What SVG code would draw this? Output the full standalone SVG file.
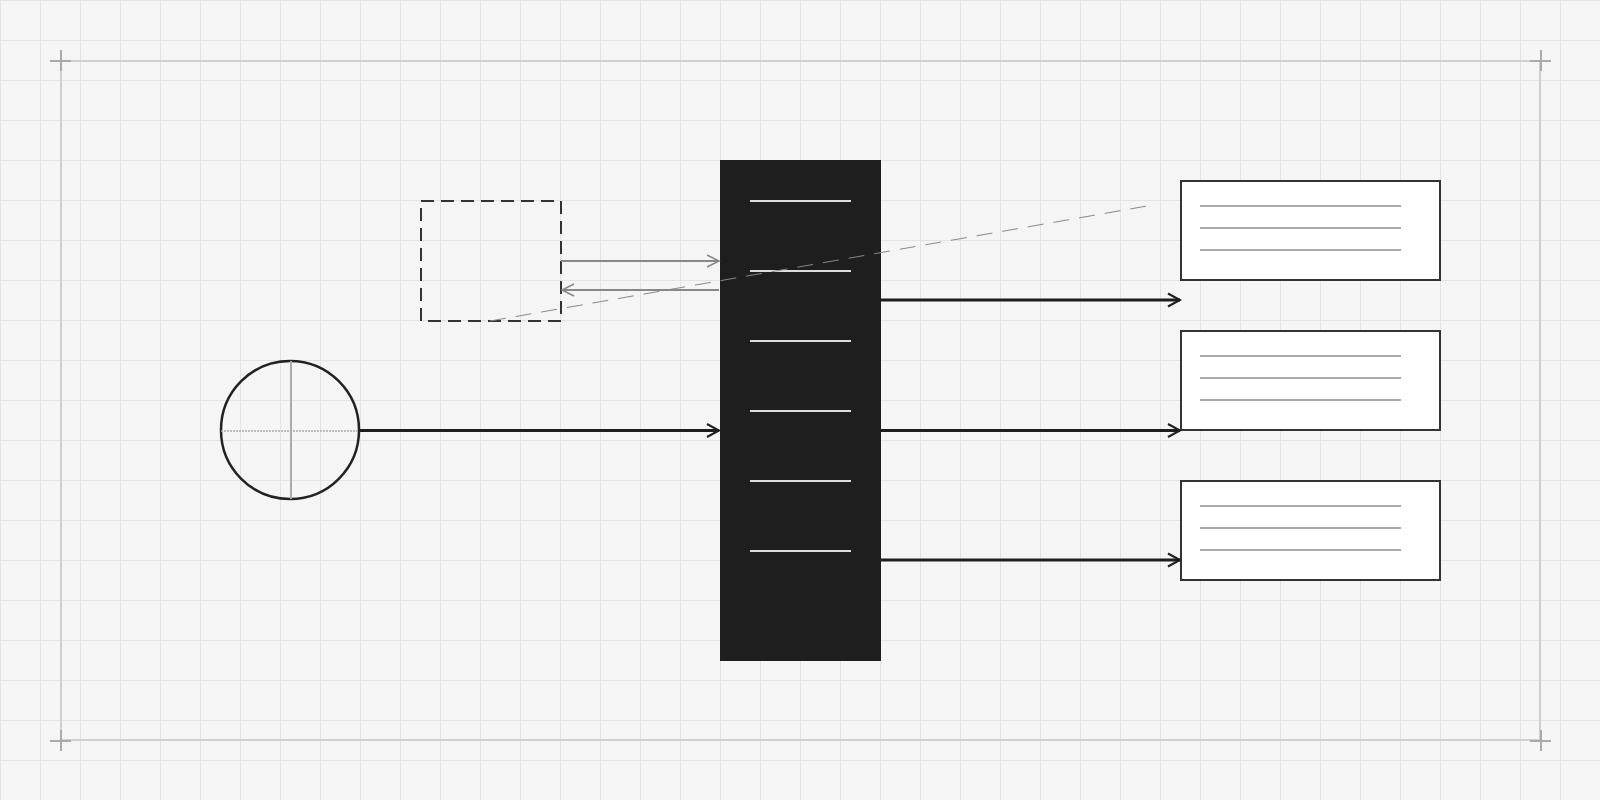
<svg xmlns="http://www.w3.org/2000/svg" width="1600" height="800" viewBox="0 0 1600 800">
<style>
.frame{fill:none;stroke:#cfcfcf;stroke-width:2}
.cross{stroke:#aaa;stroke-width:2}
.box{fill:#fff;stroke:#333;stroke-width:2}
.txt{stroke:#aaa;stroke-width:2}
.bar{stroke:#ddd;stroke-width:2}
.blk{fill:none;stroke:#1e1e1e;stroke-width:3}
.gry{fill:none;stroke:#888;stroke-width:1.8}
</style>
<defs>
<pattern id="grid" width="40" height="40" patternUnits="userSpaceOnUse">
<path d="M0.5 0V40M0 0.5H40" stroke="#e3e3e3" stroke-width="1" fill="none"/>
</pattern>
<marker id="ab" markerUnits="userSpaceOnUse" markerWidth="16" markerHeight="16" refX="13" refY="8" orient="auto">
<path d="M1 1.5L13 8L1 14.5" fill="none" stroke="#1e1e1e" stroke-width="2"/>
</marker>
<marker id="ag" markerUnits="userSpaceOnUse" markerWidth="16" markerHeight="16" refX="13" refY="8" orient="auto">
<path d="M1 2L13 8L1 14" fill="none" stroke="#888" stroke-width="1.5"/>
</marker>
</defs>
<rect width="1600" height="800" fill="#f5f5f5"/>
<rect width="1600" height="800" fill="url(#grid)"/>
<g id="frame">
<rect class="frame" x="61" y="61" width="1479" height="679"/>
<path class="cross" d="M50 61H71M61 50V71M1530 741H1551M1541 730V751M1530 61H1551M1541 50V71M50 741H71M61 730V751"/>
</g>
<g id="dashed-box">
<rect x="421" y="201" width="140" height="120" fill="none" stroke="#333" stroke-width="2" stroke-dasharray="13 7"/>
</g>
<g id="column">
<rect x="720" y="160" width="161" height="501" fill="#1e1e1e"/>
<path class="bar" d="M750 201H851M750 271H851M750 341H851M750 411H851M750 481H851M750 551H851"/>
</g>
<g id="circle">
<circle cx="290" cy="430" r="69" fill="none" stroke="#222" stroke-width="2.5"/>
<path d="M291 361V499" stroke="#aaa" stroke-width="2"/>
<path d="M221 431H359" stroke="#aaa" stroke-width="1.5" stroke-dasharray="2 1"/>
</g>
<g id="box1">
<rect class="box" x="1181" y="181" width="259" height="99"/>
<path class="txt" d="M1200 206H1401M1200 228H1401M1200 250H1401"/>
</g>
<g id="box2">
<rect class="box" x="1181" y="331" width="259" height="99"/>
<path class="txt" d="M1200 356H1401M1200 378H1401M1200 400H1401"/>
</g>
<g id="box3">
<rect class="box" x="1181" y="481" width="259" height="99"/>
<path class="txt" d="M1200 506H1401M1200 528H1401M1200 550H1401"/>
</g>
<g id="connectors">
<path class="gry" d="M561 261H719" marker-end="url(#ag)"/>
<path class="gry" d="M719 290H562" marker-end="url(#ag)"/>
<path d="M490 321L1147 206" fill="none" stroke="#888" stroke-width="1" stroke-dasharray="16 10"/>
<path class="blk" d="M360 430.5H719" marker-end="url(#ab)"/>
<path class="blk" d="M881 300H1180" marker-end="url(#ab)"/>
<path class="blk" d="M881 430.5H1180" marker-end="url(#ab)"/>
<path class="blk" d="M881 560H1180" marker-end="url(#ab)"/>
</g>
</svg>
